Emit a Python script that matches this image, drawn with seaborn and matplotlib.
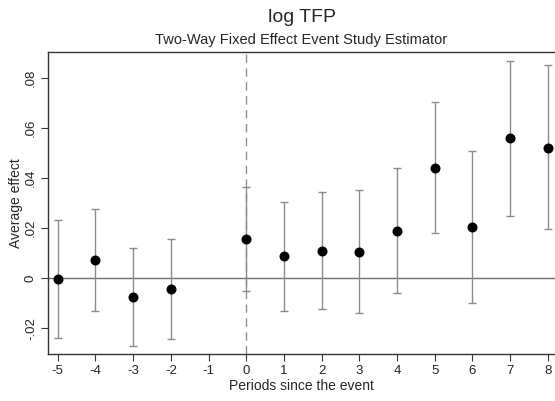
import matplotlib
matplotlib.use("Agg")
import matplotlib.pyplot as plt
import seaborn as sns
import pandas as pd

periods = [-5, -4, -3, -2, 0, 1, 2, 3, 4, 5, 6, 7, 8]
estimates = [-0.0004, 0.0073, -0.0076, -0.0043, 0.0157, 0.0088, 0.0109, 0.0106, 0.0190, 0.0441, 0.0204, 0.0560, 0.0522]
ci_upper = [0.0232, 0.0277, 0.0120, 0.0157, 0.0366, 0.0306, 0.0344, 0.0353, 0.0441, 0.0703, 0.0507, 0.0869, 0.0852]
ci_lower = [-0.0239, -0.0132, -0.0270, -0.0242, -0.0052, -0.0130, -0.0124, -0.0139, -0.0059, 0.0180, -0.0100, 0.0250, 0.0196]
xticks = [-5, -4, -3, -2, -1, 0, 1, 2, 3, 4, 5, 6, 7, 8]
yticks = [-0.02, 0, 0.02, 0.04, 0.06, 0.08]
ytick_labels = ["-.02", "0", ".02", ".04", ".06", ".08"]

df = pd.DataFrame({"period": periods, "est": estimates, "lo": ci_lower, "hi": ci_upper})

sns.set_style("white")
plt.rcParams['font.family'] = ['Liberation Sans', 'DejaVu Sans']

fig = plt.figure(figsize=(5.55, 4.01), dpi=100)
ax = fig.add_axes([48/555, 47/401, 1 - 48/555, 302/401])

ax.axhline(0, color="#707070", lw=1.0, zorder=1)
ax.axvline(0, color="#909090", lw=1.0, ls=(0, (6, 4)), zorder=1)
ax.errorbar(df["period"], df["est"],
            yerr=[df["est"] - df["lo"], df["hi"] - df["est"]],
            fmt="none", ecolor="#8c8c8c", elinewidth=1.0, capsize=3.2, capthick=1.0, zorder=2)
sns.scatterplot(data=df, x="period", y="est", ax=ax, color="black", s=52,
                edgecolor="black", linewidth=0, zorder=3)

ax.set_xlim(-5.26, 8.19)
ax.set_ylim(-0.0303, 0.0905)
ax.set_xticks(xticks)
ax.set_xticklabels([str(t) for t in xticks], fontsize=9.5)
ax.set_yticks(yticks)
ax.set_yticklabels(ytick_labels, fontsize=9.5, rotation=90, va="center")
ax.tick_params(axis="both", direction="out", length=5, width=0.8, color="#333333", left=True, bottom=True, pad=3)

for s in ["left", "bottom", "top"]:
    ax.spines[s].set_color("#333333")
    ax.spines[s].set_linewidth(1.0)
ax.spines["right"].set_visible(False)

ax.set_xlabel("Periods since the event", fontsize=10, labelpad=1)
ax.set_ylabel("Average effect", fontsize=10)
ax.yaxis.set_label_coords(-(48 - 23) / (555 - 48), 0.5)

fig.text(0.5 + 24/555, 1 - 17/401, "log TFP", ha="center", va="center", fontsize=14)
fig.text(0.5 + 24/555, 1 - 40/401, "Two-Way Fixed Effect Event Study Estimator", ha="center", va="center", fontsize=10.5)

fig.savefig("out.png", dpi=100)
